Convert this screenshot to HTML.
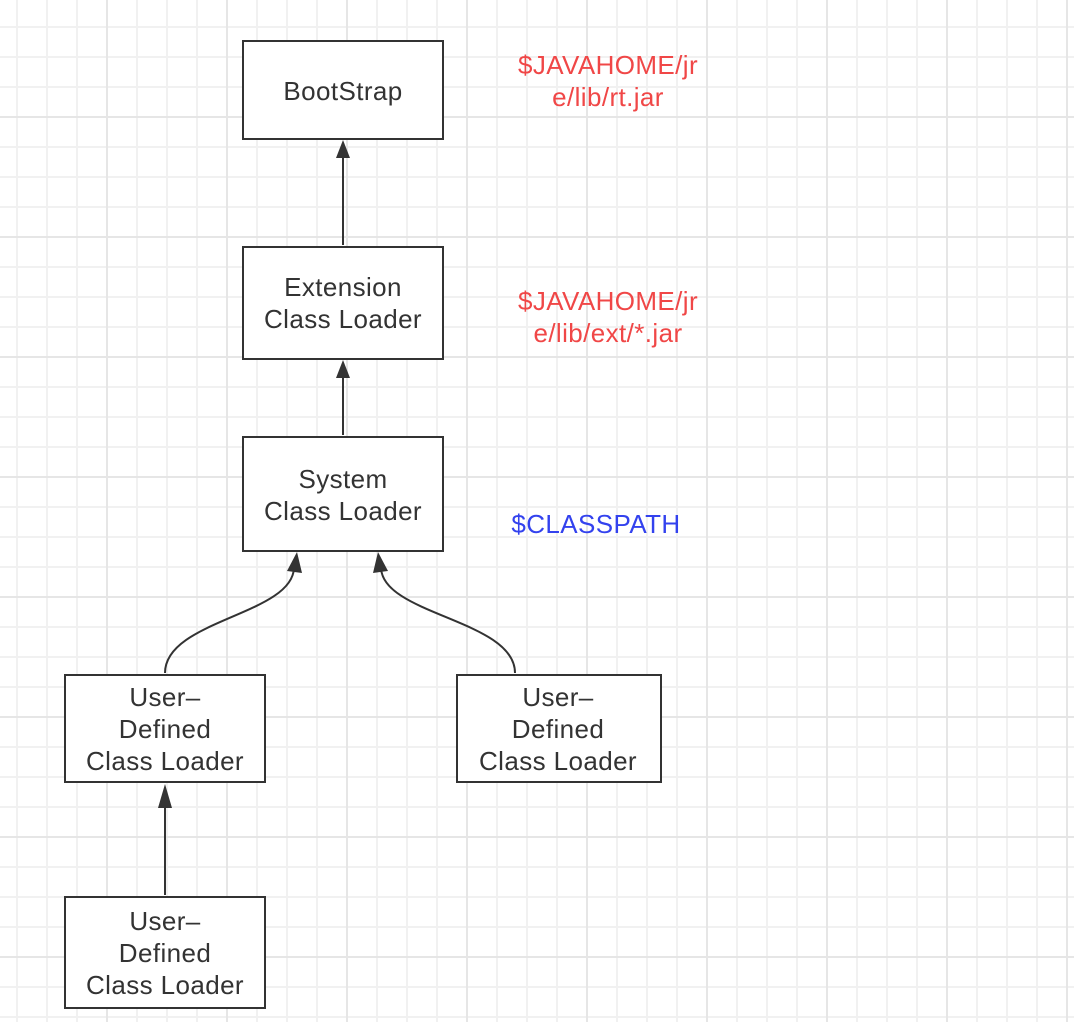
<!DOCTYPE html>
<html><head><style>
html,body{margin:0;padding:0;background:#fff;}
svg{display:block;}
text{font-family:"Liberation Sans",sans-serif;font-size:26px;letter-spacing:0.4px;}
</style></head><body>
<svg width="1074" height="1022" xmlns="http://www.w3.org/2000/svg">
<defs>
<pattern id="g" x="16" y="26" width="30" height="30" patternUnits="userSpaceOnUse">
<path d="M0 1H30M1 0V30" stroke="#f1f1f1" stroke-width="2" fill="none"/>
</pattern>
<pattern id="G" x="106" y="116" width="120" height="120" patternUnits="userSpaceOnUse">
<path d="M0 1H120M1 0V120" stroke="#e6e6e6" stroke-width="2" fill="none"/>
</pattern>
</defs>
<rect width="1074" height="1022" fill="url(#g)"/>
<rect width="1074" height="1022" fill="url(#G)"/>
<g fill="#fff" stroke="#333" stroke-width="2">
<rect x="243" y="41" width="200" height="98"/>
<rect x="243" y="247" width="200" height="112"/>
<rect x="243" y="437" width="200" height="114"/>
<rect x="65" y="675" width="200" height="107"/>
<rect x="457" y="675" width="204" height="107"/>
<rect x="65" y="897" width="200" height="111"/>
</g>
<g stroke="#333" stroke-width="2" fill="none">
<path d="M343 245V158"/>
<path d="M343 435V378"/>
<path d="M165 673C165 620 292 615 294 568"/>
<path d="M515 673C515 620 383 615 381 568"/>
<path d="M165 895V808"/>
</g>
<g fill="#333">
<path d="M343 140L336 158L350 158Z"/>
<path d="M343 360L336 378L350 378Z"/>
<path d="M297 552L287 571L302 573Z"/>
<path d="M378 552L373 573L388 571Z"/>
<path d="M165 784L158 808L172 808Z"/>
</g>
<g fill="#333" text-anchor="middle">
<text x="343" y="100">BootStrap</text>
<text x="343" y="296">Extension</text>
<text x="343" y="328">Class Loader</text>
<text x="343" y="488">System</text>
<text x="343" y="520">Class Loader</text>
<text x="165" y="706">User–</text>
<text x="165" y="738">Defined</text>
<text x="165" y="770">Class Loader</text>
<text x="558" y="706">User–</text>
<text x="558" y="738">Defined</text>
<text x="558" y="770">Class Loader</text>
<text x="165" y="930">User–</text>
<text x="165" y="962">Defined</text>
<text x="165" y="994">Class Loader</text>
</g>
<g fill="#f04747" text-anchor="middle">
<text x="608" y="74">$JAVAHOME/jr</text>
<text x="608" y="106">e/lib/rt.jar</text>
<text x="608" y="310">$JAVAHOME/jr</text>
<text x="608" y="342">e/lib/ext/*.jar</text>
</g>
<text x="596" y="533" fill="#3342ee" text-anchor="middle">$CLASSPATH</text>
</svg>
</body></html>
